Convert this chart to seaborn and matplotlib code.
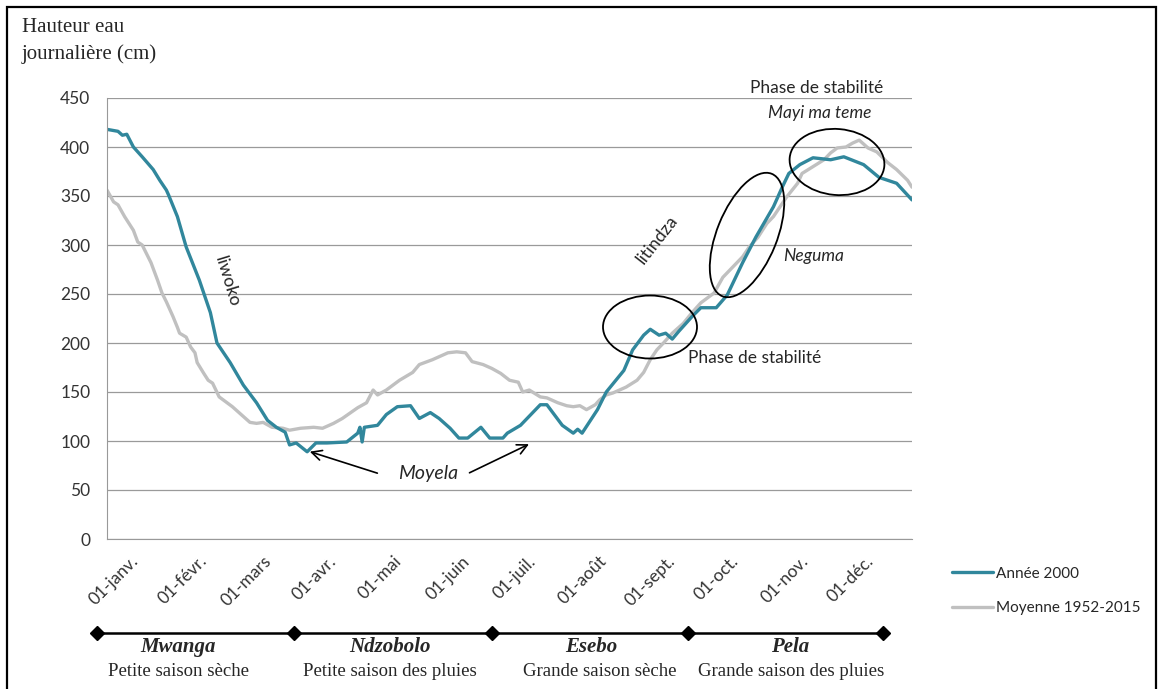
import numpy as np
import pandas as pd
import seaborn as sns
import matplotlib.pyplot as plt
from matplotlib.patches import Ellipse, Rectangle
from matplotlib.lines import Line2D
from matplotlib.transforms import ScaledTranslation

# daily water height (cm), x = day of year 2000
days_2000 = [0, 5, 7, 9, 12, 16, 21, 24, 27, 28, 32, 36, 42, 47, 50, 56, 62, 68, 73, 77, 81,
             83, 86, 91, 95, 100, 109, 114, 115, 116, 117, 123, 127, 132, 138, 142, 147, 151,
             156, 160, 164, 170, 174, 180, 182, 188, 197, 200, 207, 212, 214, 216, 223, 227,
             235, 239, 244, 247, 251, 254, 257, 260, 266, 270, 277, 282, 289, 295, 303, 307,
             310, 315, 321, 329, 335, 344, 351, 359, 366]
height_2000 = [418, 416, 412, 413, 400, 390, 377, 366, 356, 351, 329, 298, 264, 231, 200, 180,
               157, 139, 121, 114, 109, 96, 98, 89, 98, 98, 99, 108, 114, 99, 114, 116, 127, 135,
               136, 123, 129, 123, 113, 103, 103, 114, 103, 103, 108, 116, 137, 137, 116, 108,
               112, 108, 132, 150, 172, 193, 208, 214, 208, 210, 204, 212, 227, 236, 236, 249,
               282, 308, 339, 359, 373, 382, 389, 387, 390, 382, 369, 363, 346]

days_mean = [0, 3, 5, 8, 12, 14, 16, 20, 23, 25, 27, 30, 32, 33, 36, 38, 40, 41, 44, 46, 48,
             51, 54, 57, 61, 65, 68, 71, 75, 80, 83, 88, 94, 98, 103, 107, 114, 118, 121, 123,
             127, 133, 139, 142, 148, 155, 159, 163, 166, 171, 175, 179, 183, 187, 189, 192,
             197, 200, 205, 209, 212, 215, 218, 222, 224, 227, 230, 233, 236, 241, 244, 247,
             250, 253, 257, 262, 266, 270, 276, 280, 283, 289, 292, 296, 300, 303, 306, 309,
             314, 316, 321, 326, 329, 332, 336, 339, 342, 346, 350, 355, 359, 364, 366]
height_mean = [356, 344, 341, 329, 315, 303, 300, 282, 264, 251, 242, 227, 216, 210, 206, 196,
               190, 180, 169, 162, 159, 145, 140, 135, 127, 119, 118, 119, 114, 113, 111, 113,
               114, 113, 118, 123, 134, 139, 152, 147, 152, 162, 170, 178, 183, 190, 191, 190,
               181, 178, 174, 169, 162, 160, 150, 152, 145, 144, 139, 136, 135, 136, 132, 137,
               142, 147, 149, 152, 155, 162, 170, 183, 193, 200, 210, 220, 231, 241, 251, 267,
               274, 288, 298, 308, 322, 329, 339, 349, 363, 373, 380, 387, 394, 399, 400, 404,
               407, 399, 395, 384, 377, 366, 359]

month_ticks = [0, 31, 60, 91, 121, 152, 182, 213, 244, 274, 305, 335, 366]
month_labels = ['01-janv.', '01-févr.', '01-mars', '01-avr.', '01-mai', '01-juin', '01-juil.',
                '01-août', '01-sept.', '01-oct.', '01-nov.', '01-déc.', '']

season_bounds = [-4.5, 85, 175, 264, 353]
season_names = ['Mwanga', 'Ndzobolo', 'Esebo', 'Pela']
season_desc = ['Petite saison sèche', 'Petite saison des pluies',
               'Grande saison sèche', 'Grande saison des pluies']

df = pd.concat([
    pd.DataFrame({'jour': days_2000, 'hauteur': height_2000, 'serie': 'Année 2000'}),
    pd.DataFrame({'jour': days_mean, 'hauteur': height_mean, 'serie': 'Moyenne 1952-2015'}),
])

sns.set_style('white')
plt.rcParams['font.family'] = ['Lato', 'DejaVu Sans']

W, H = 1158, 689
fig = plt.figure(figsize=(W / 100, H / 100), dpi=100)
ax = fig.add_axes([107 / W, 1 - 539 / H, 805 / W, 441 / H])


def fpos(x, y):
    # pixel position in the picture -> figure fraction
    return (x / W, 1 - y / H)


sns.lineplot(data=df, x='jour', y='hauteur', hue='serie', ax=ax, linewidth=2.4,
             palette={'Année 2000': '#31879c', 'Moyenne 1952-2015': '#c0c0c0'},
             hue_order=['Moyenne 1952-2015', 'Année 2000'], legend=False)

ax.set_xlim(0, 366)
ax.set_ylim(0, 450)
ax.set_yticks(range(0, 451, 50))
ax.tick_params(axis='y', labelsize=12.5, colors='#333333', length=5, color='#999999', pad=7)
ax.set_xticks(month_ticks)
ax.set_xticklabels(month_labels, rotation=45, ha='center', va='top', fontsize=12.5)
ax.tick_params(axis='x', colors='#333333', length=6, color='#999999', pad=4)
for lab in ax.get_xticklabels():
    lab.set_transform(lab.get_transform() + ScaledTranslation(0.07, 0, fig.dpi_scale_trans))
ax.grid(axis='y', color='#9a9a9a', linewidth=0.9)
ax.set_axisbelow(True)
for s in ['top', 'right']:
    ax.spines[s].set_visible(False)
for s in ['left', 'bottom']:
    ax.spines[s].set_color('#999999')
ax.set_xlabel('')
ax.set_ylabel('')

# y label in the top left
fig.text(*fpos(22, 41), 'Hauteur eau\njournalière (cm)', family='Liberation Serif',
         fontsize=15, va='center', linespacing=1.45)

# legend
handles = [Line2D([], [], color='#31879c', lw=2.4), Line2D([], [], color='#c0c0c0', lw=2.4)]
fig.legend(handles, ['Année 2000', 'Moyenne 1952-2015'], loc='upper left',
           bbox_to_anchor=fpos(938, 553), frameon=False, fontsize=11,
           handlelength=2.7, handletextpad=0.2, labelspacing=1.35)

# annotations
fig.text(*fpos(227, 282), 'liwoko', rotation=-73, fontsize=13, ha='center', va='center')
fig.text(*fpos(657, 240), 'litindza', rotation=52, fontsize=13, ha='center', va='center')
fig.text(*fpos(688, 358), 'Phase de stabilité', fontsize=12.5, ha='left', va='center')
fig.text(*fpos(817, 88), 'Phase de stabilité', fontsize=12.5, ha='center', va='center')
fig.text(*fpos(820, 113), 'Mayi ma teme', fontsize=12.5, style='italic', ha='center', va='center')
fig.text(*fpos(783, 256), 'Neguma', fontsize=12.5, style='italic', ha='left', va='center')
fig.text(*fpos(428, 473), 'Moyela', fontsize=14, style='italic', ha='center', va='center')
ax.annotate('', xy=(91, 90), xycoords='data', xytext=fpos(380, 474), textcoords='figure fraction',
            arrowprops=dict(arrowstyle='->', color='black', lw=1.2, mutation_scale=18))
ax.annotate('', xy=(193, 98), xycoords='data', xytext=fpos(467, 474), textcoords='figure fraction',
            arrowprops=dict(arrowstyle='->', color='black', lw=1.2, mutation_scale=18))

for cx, cy, w, h, ang in [(650, 327, 94, 63, 0), (747, 235, 132, 60, 68), (837, 162, 95, 66, -5)]:
    fig.add_artist(Ellipse((cx / 100, (H - cy) / 100), w / 100, h / 100, angle=ang,
                           transform=fig.dpi_scale_trans, fill=False, edgecolor='black', lw=1.3))

# season bar below the axis
bar_y = -94 / 441
trans = ax.get_xaxis_transform()
ax.plot(season_bounds, [bar_y] * len(season_bounds), color='black', lw=1.8, marker='D',
        markersize=7, transform=trans, clip_on=False)
name_x = [178, 390, 591, 790]
desc_x = [178, 390, 600, 791]
for i, name in enumerate(season_names):
    fig.text(*fpos(name_x[i], 647), name, ha='center', va='center',
             family='Liberation Serif', fontsize=15, weight='bold', style='italic')
    fig.text(*fpos(desc_x[i], 672), season_desc[i], ha='center', va='center',
             family='Liberation Serif', fontsize=13.5)

# frame around the whole picture
fig.add_artist(Rectangle((0.07, -0.05), 11.49, 6.87, transform=fig.dpi_scale_trans,
                         fill=False, edgecolor='black', lw=1.6))

fig.savefig('out.png', dpi=100)
